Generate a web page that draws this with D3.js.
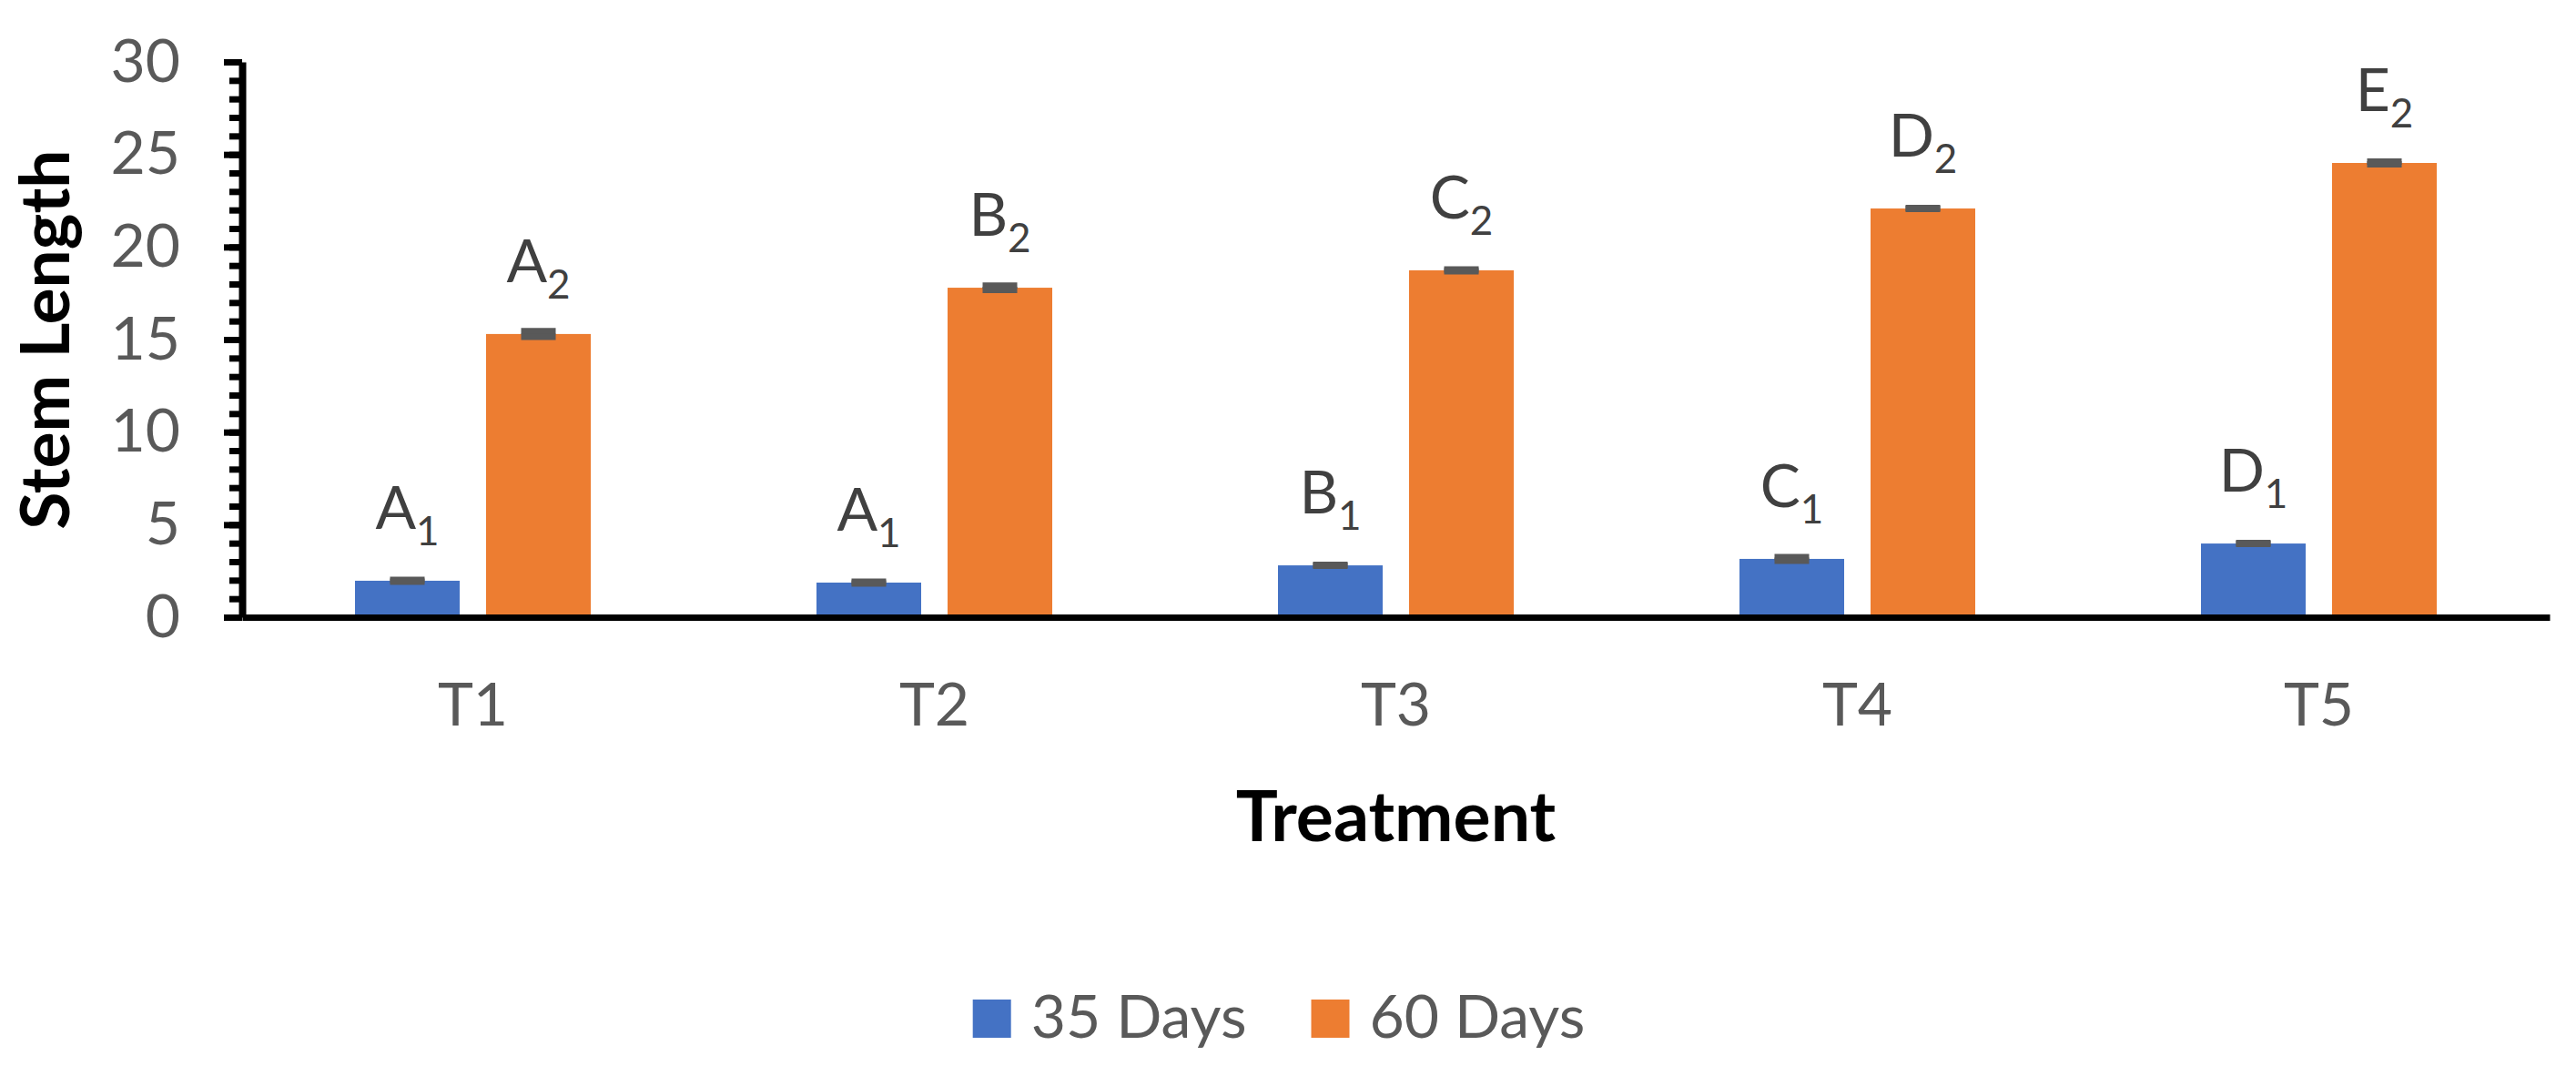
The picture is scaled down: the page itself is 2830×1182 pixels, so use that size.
<!DOCTYPE html>
<html>
<head>
<meta charset="utf-8">
<script src="https://cdn.jsdelivr.net/npm/d3@7"></script>
<style>
  html, body { margin: 0; padding: 0; background: #fff; }
  text { font-family: Lato, "Open Sans", sans-serif; }
</style>
</head>
<body>
<div id="container"></div>
<script>
const categories = ["T1", "T2", "T3", "T4", "T5"];
const seriesNames = ["35 Days", "60 Days"];
const days35 = [1.97, 1.87, 2.80, 3.15, 3.98];
const days60 = [15.3, 17.8, 18.74, 22.08, 24.54];
const err35 = [0.05, 0.05, 0.025, 0.1, 0.025];
const err60 = [0.15, 0.12, 0.05, 0.025, 0.075];
const letters35 = ["A", "A", "B", "C", "D"];
const letters60 = ["A", "B", "C", "D", "E"];
const subs = ["1", "2"];
const yMajorTicks = [0, 5, 10, 15, 20, 25, 30];

const W = 2830, H = 1182;
const margin = {top: 68, right: 29, bottom: 504, left: 266};
const width = W - margin.left - margin.right;
const height = H - margin.top - margin.bottom;

const color = d3.scaleOrdinal().domain(seriesNames).range(["#4472C4", "#ED7D31"]);

const data = categories.map((c, i) => ({
  cat: c,
  bars: [
    {key: seriesNames[0], value: days35[i], err: err35[i], label: letters35[i], sub: subs[0]},
    {key: seriesNames[1], value: days60[i], err: err60[i], label: letters60[i], sub: subs[1]}
  ]
}));

const svg = d3.select("#container").append("svg")
  .attr("width", W)
  .attr("height", H);

const g = svg.append("g")
  .attr("transform", `translate(${margin.left},${margin.top})`);

const x0 = d3.scaleBand().domain(categories).range([0, width]);
const x1 = d3.scaleBand().domain(seriesNames)
  .range([0, x0.bandwidth()])
  .paddingInner(0.2014)
  .paddingOuter(0.861);
const y = d3.scaleLinear().domain([0, 30]).range([height, 0]);

// bars
const groups = g.selectAll(".grp")
  .data(data)
  .join("g")
  .attr("class", "grp")
  .attr("transform", d => `translate(${x0(d.cat)},0)`);

groups.selectAll("rect")
  .data(d => d.bars)
  .join("rect")
  .attr("x", d => x1(d.key))
  .attr("y", d => y(d.value))
  .attr("width", x1.bandwidth())
  .attr("height", d => y(0) - y(d.value))
  .attr("fill", d => color(d.key));

// error bars
const capW = 38;
const eb = groups.selectAll(".err")
  .data(d => d.bars)
  .join("g")
  .attr("class", "err")
  .attr("stroke", "#595959")
  .attr("stroke-width", 7);
eb.append("line")
  .attr("x1", d => x1(d.key) + x1.bandwidth() / 2)
  .attr("x2", d => x1(d.key) + x1.bandwidth() / 2)
  .attr("y1", d => y(d.value + d.err))
  .attr("y2", d => y(d.value - d.err));
[1, -1].forEach(s => {
  eb.append("line")
    .attr("x1", d => x1(d.key) + x1.bandwidth() / 2 - capW / 2)
    .attr("x2", d => x1(d.key) + x1.bandwidth() / 2 + capW / 2)
    .attr("y1", d => y(d.value + s * d.err))
    .attr("y2", d => y(d.value + s * d.err));
});

// letter labels
const lab = groups.selectAll(".lab")
  .data(d => d.bars)
  .join("text")
  .attr("class", "lab")
  .attr("x", d => x1(d.key) + x1.bandwidth() / 2)
  .attr("y", d => y(d.value) - 57)
  .attr("text-anchor", "middle")
  .style("font-size", "66px")
  .style("fill", "#404040");
lab.append("tspan").text(d => d.label);
lab.append("tspan")
  .attr("dy", 18)
  .style("font-size", "44px")
  .text(d => d.sub);

// y axis minor ticks
g.append("g")
  .call(d3.axisLeft(y).tickValues(d3.range(0, 31)).tickSize(14).tickSizeOuter(0).tickFormat(""))
  .call(a => a.select(".domain").remove())
  .call(a => a.selectAll("line").attr("stroke", "#000").attr("stroke-width", 7));

// y axis major ticks + labels
g.append("g")
  .call(d3.axisLeft(y).tickValues(yMajorTicks).tickSize(20).tickSizeOuter(0).tickPadding(48))
  .call(a => a.select(".domain").attr("stroke", "#000").attr("stroke-width", 8))
  .call(a => a.selectAll("line").attr("stroke", "#000").attr("stroke-width", 7))
  .call(a => a.selectAll("text")
    .style("font-size", "66px")
    .style("fill", "#595959"));

// x axis
g.append("g")
  .attr("transform", `translate(0,${height})`)
  .call(d3.axisBottom(x0).tickSize(0).tickSizeOuter(0))
  .call(a => a.select(".domain").attr("stroke", "#000").attr("stroke-width", 7))
  .call(a => a.selectAll("text")
    .attr("y", 119)
    .attr("dy", null)
    .style("font-size", "66px")
    .style("fill", "#595959"));

// axis titles
svg.append("text")
  .attr("transform", `translate(76,${margin.top + height / 2}) rotate(-90)`)
  .attr("text-anchor", "middle")
  .style("font-size", "75px")
  .style("font-weight", "bold")
  .style("fill", "#000")
  .text("Stem Length");

svg.append("text")
  .attr("x", margin.left + width / 2)
  .attr("y", 924)
  .attr("text-anchor", "middle")
  .style("font-size", "77px")
  .style("font-weight", "bold")
  .style("fill", "#000")
  .text("Treatment");

// legend
const legend = svg.append("g").attr("class", "legend");
const items = legend.selectAll("g")
  .data(seriesNames)
  .join("g");
items.append("rect")
  .attr("width", 42)
  .attr("height", 42)
  .attr("y", -42)
  .attr("fill", d => color(d));
items.append("text")
  .attr("x", 64)
  .style("font-size", "66px")
  .style("fill", "#595959")
  .text(d => d);

let off = 0;
const widths = [];
items.each(function() {
  const w = 64 + this.querySelector("text").getComputedTextLength();
  widths.push(w);
});
const totalW = d3.sum(widths) + 71 * (widths.length - 1);
items.attr("transform", (d, i) => {
  const t = `translate(${off},0)`;
  off += widths[i] + 71;
  return t;
});
legend.attr("transform", `translate(${1405 - totalW / 2},1140)`);
</script>
</body>
</html>
